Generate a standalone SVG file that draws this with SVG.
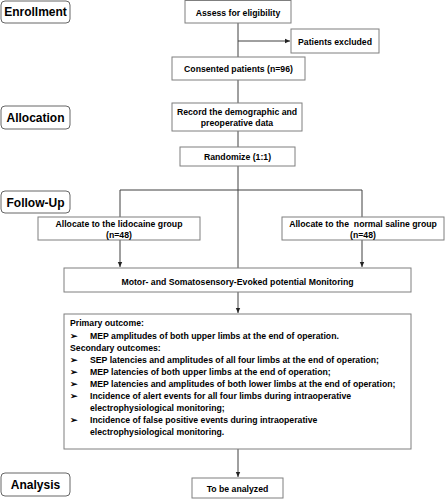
<svg xmlns="http://www.w3.org/2000/svg" width="445" height="500" viewBox="0 0 445 500">
<style>
.box{fill:#fff;stroke:#7f7f7f;stroke-width:1}
.stage{fill:#fff;stroke:#666;stroke-width:1}
.t{font-family:"Liberation Sans",Arial,sans-serif;font-weight:bold;font-size:8.7px;fill:#000;text-anchor:middle}
.tl{font-family:"Liberation Sans",Arial,sans-serif;font-weight:bold;font-size:8.7px;fill:#000}
.st{font-family:"Liberation Sans",Arial,sans-serif;font-weight:bold;font-size:12px;fill:#000;text-anchor:middle}
.ln{fill:none;stroke:#404040;stroke-width:1}
</style>
<defs>
<marker id="ah" markerWidth="6" markerHeight="6" refX="5" refY="3" orient="auto" markerUnits="userSpaceOnUse">
<path d="M0,0.8 L5,3 L0,5.2 Z" fill="#222"/>
</marker>
</defs>
<rect width="445" height="500" fill="#fff"/>
<g id="stage-enrollment"><rect class="stage" x="1" y="1" width="69" height="22" rx="4"/><text class="st" x="35.5" y="16">Enrollment</text></g>
<g id="stage-allocation"><rect class="stage" x="1" y="106" width="69" height="23" rx="4"/><text class="st" x="35.5" y="121.5">Allocation</text></g>
<g id="stage-followup"><rect class="stage" x="1" y="191" width="69" height="22" rx="4"/><text class="st" x="35.5" y="206.5">Follow-Up</text></g>
<g id="stage-analysis"><rect class="stage" x="1" y="473" width="69" height="23" rx="4"/><text class="st" x="35.5" y="488.5">Analysis</text></g>
<g id="connectors">
<path class="ln" d="M238,23 V57"/>
<path class="ln" d="M238,41 H290" marker-end="url(#ah)"/>
<path class="ln" d="M238,80 V103"/>
<path class="ln" d="M238,131 V147"/>
<path class="ln" d="M238,166 V268"/>
<path class="ln" d="M120,217 V190 H362 V217"/>
<path class="ln" d="M120,240 V267" marker-end="url(#ah)"/>
<path class="ln" d="M362,240 V267" marker-end="url(#ah)"/>
<path class="ln" d="M238,292 V313" marker-end="url(#ah)"/>
<path class="ln" d="M238,449 V477" marker-end="url(#ah)"/>
</g>
<g id="assess"><rect class="box" x="185" y="0.5" width="106" height="22.5"/><text class="t" x="238" y="16">Assess for eligibility</text></g>
<g id="excluded"><rect class="box" x="291" y="29" width="88" height="24"/><text class="t" x="335" y="44.5">Patients excluded</text></g>
<g id="consented"><rect class="box" x="172" y="57" width="133" height="23"/><text class="t" x="238.5" y="72">Consented patients (n=96)</text></g>
<g id="record"><rect class="box" x="172" y="103" width="130" height="28"/><text class="t" x="237" y="115">Record the demographic and</text><text class="t" x="237" y="126">preoperative data</text></g>
<g id="randomize"><rect class="box" x="180" y="147" width="115" height="19"/><text class="t" x="237.5" y="159.5">Randomize (1:1)</text></g>
<g id="lidocaine"><rect class="box" x="38" y="217" width="162" height="23"/><text class="t" x="119" y="227">Allocate to the lidocaine group</text><text class="t" x="119" y="238">(n=48)</text></g>
<g id="saline"><rect class="box" x="282" y="217" width="162" height="23"/><text class="t" x="363" y="227" xml:space="preserve">Allocate to the  normal saline group</text><text class="t" x="363" y="238">(n=48)</text></g>
<g id="monitoring"><rect class="box" x="64" y="268" width="347" height="24"/><text class="t" x="237.5" y="284.5">Motor- and Somatosensory-Evoked potential Monitoring</text></g>
<g id="outcomes"><rect class="box" x="64" y="314" width="347" height="135"/>
<text class="tl" x="70" y="326">Primary outcome:</text>
<text class="tl" x="70" y="338.5">➢</text><text class="tl" x="90" y="338.5">MEP amplitudes of both upper limbs at the end of operation.</text>
<text class="tl" x="70" y="350.5">Secondary outcomes:</text>
<text class="tl" x="70" y="362.5">➢</text><text class="tl" x="90" y="362.5">SEP latencies and amplitudes of all four limbs at the end of operation;</text>
<text class="tl" x="70" y="374.5">➢</text><text class="tl" x="90" y="374.5">MEP latencies of both upper limbs at the end of operation;</text>
<text class="tl" x="70" y="386.5">➢</text><text class="tl" x="90" y="386.5">MEP latencies and amplitudes of both lower limbs at the end of operation;</text>
<text class="tl" x="70" y="398.5">➢</text><text class="tl" x="90" y="398.5">Incidence of alert events for all four limbs during intraoperative</text>
<text class="tl" x="90" y="410.5">electrophysiological monitoring;</text>
<text class="tl" x="70" y="422.5">➢</text><text class="tl" x="90" y="422.5">Incidence of false positive events during intraoperative</text>
<text class="tl" x="90" y="434.5">electrophysiological monitoring.</text>
</g>
<g id="analyzed"><rect class="box" x="192" y="478" width="91" height="20"/><text class="t" x="237.5" y="491.5">To be analyzed</text></g>
</svg>
